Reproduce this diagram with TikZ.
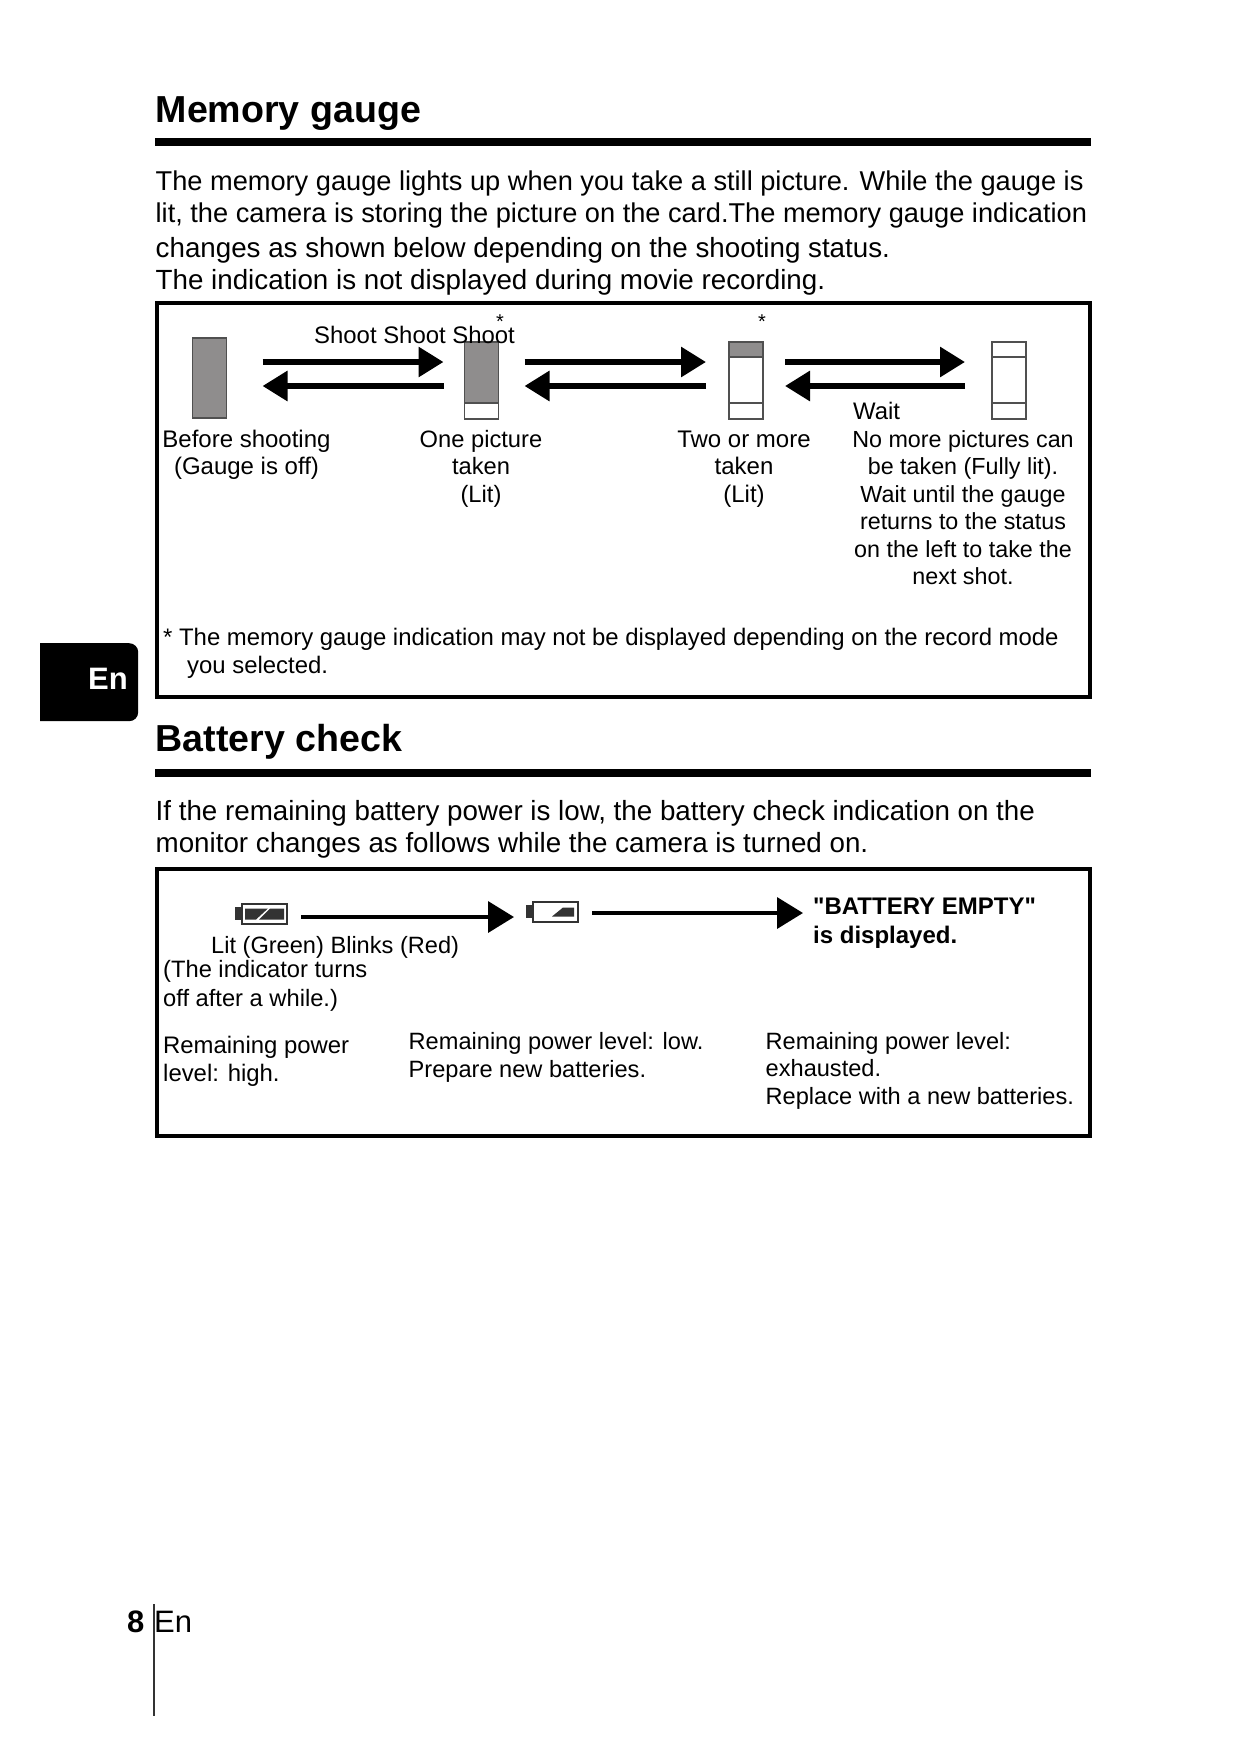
\documentclass[tikz,border=0pt]{standalone}
\usepackage{fontspec}
\setmainfont{Liberation Sans}[Ligatures=TeXOff]
\usepackage{xcolor}
\usetikzlibrary{arrows.meta}
\definecolor{gaugefill}{HTML}{8F8D8D}
\definecolor{gaugeedge}{HTML}{505050}
\begin{document}
\begin{tikzpicture}[
  x=1pt, y=-1pt,
  title/.style={inner sep=0, anchor=base west, font=\fontsize{37.6}{40}\selectfont\bfseries},
  bodytext/.style={inner sep=0, anchor=base west, align=left, font=\fontsize{27.2}{31.5}\selectfont},
  widetext/.style={bodytext, font=\fontsize{27.75}{31.5}\selectfont},
  boxtext/.style={inner sep=0, anchor=base west, align=left, font=\fontsize{23.9}{27.5}\selectfont},
  battext/.style={boxtext, font=\fontsize{23.6}{27.5}\selectfont},
  centertext/.style={inner sep=0, anchor=base, align=center, font=\fontsize{23.7}{27.5}\selectfont},
  starmark/.style={inner sep=0, font=\fontsize{20}{20}\selectfont},
  panel/.style={draw=black, line width=4pt, inner sep=0, outer sep=0, anchor=north west},
  headrule/.style={line width=8pt, draw=black},
  gaugebox/.style={draw=gaugeedge, line width=1.5pt, minimum width=34pt, minimum height=77pt, inner sep=0, outer sep=0, fill=white},
  gaugeline/.style={draw=gaugeedge, line width=1.5pt},
  arrow/.style={-{Triangle[length=25pt,width=29pt]}, line width=6pt},
  batarrow/.style={-{Triangle[length=26pt,width=31pt]}, line width=3.6pt},
  batbody/.style={draw=black!80, line width=2pt, minimum width=45pt, minimum height=20pt, inner sep=0, outer sep=0, fill=white},
  batnub/.style={fill=black!80, inner sep=0, outer sep=0, minimum width=7pt, minimum height=13pt}
]
\useasboundingbox[fill=white] (0,0) rectangle (1241,1754);

\node[title] (memtitle) at (155.5,122) {Memory gauge};
\coordinate (rulea) at (155,142);
\coordinate (ruleb) at (1091,142);
\draw[headrule] (rulea) -- (ruleb);
\node[bodytext] (memline1) at (155.5,190.5) {The memory gauge lights up when you take a still picture. While the gauge is};
\node[bodytext] (memline2) at (155.5,222.5) {lit, the camera is storing the picture on the card.The memory gauge indication};
\node[widetext] (memline3) at (155.5,257.5) {changes as shown below depending on the shooting status.};
\node[widetext] (memline4) at (155.5,289.5) {The indication is not displayed during movie recording.};

\node[panel, minimum width=933pt, minimum height=394pt] (mempanel) at (157,303) {};

\node[gaugebox, fill=gaugefill, minimum height=80pt] (g0) at (209.5,378) {};
\node[gaugebox, fill=gaugefill] (g1) at (481.5,380.5) {};
\node[gaugebox] (g2) at (746,380.5) {};
\node[gaugebox] (g3) at (1009,380.5) {};
\fill[white] ([yshift=16pt]g1.south west) rectangle (g1.south east);
\draw[gaugeline] (g1.north west) rectangle (g1.south east);
\draw[gaugeline] ([yshift=16pt]g1.south west) -- ([yshift=16pt]g1.south east);
\fill[gaugefill] (g2.north west) rectangle ([yshift=-15pt]g2.north east);
\draw[gaugeline] ([yshift=-15pt]g2.north west) -- ([yshift=-15pt]g2.north east);
\draw[gaugeline] ([yshift=16pt]g2.south west) -- ([yshift=16pt]g2.south east);
\draw[gaugeline] (g2.north west) rectangle (g2.south east);
\draw[gaugeline] ([yshift=-15pt]g3.north west) -- ([yshift=-15pt]g3.north east);
\draw[gaugeline] ([yshift=16pt]g3.south west) -- ([yshift=16pt]g3.south east);

\draw[arrow] ([xshift=36pt,yshift=16pt]g0.east) -- ([xshift=-21pt,yshift=18.5pt]g1.west);
\draw[arrow] ([xshift=-21pt,yshift=-5.5pt]g1.west) -- ([xshift=36pt,yshift=-8pt]g0.east);
\draw[arrow] ([xshift=26pt,yshift=18.5pt]g1.east) -- ([xshift=-23pt,yshift=18.5pt]g2.west);
\draw[arrow] ([xshift=-23pt,yshift=-5.5pt]g2.west) -- ([xshift=26pt,yshift=-5.5pt]g1.east);
\draw[arrow] ([xshift=22pt,yshift=18.5pt]g2.east) -- ([xshift=-27pt,yshift=18.5pt]g3.west);
\draw[arrow] ([xshift=-27pt,yshift=-5.5pt]g3.west) -- ([xshift=22pt,yshift=-5.5pt]g2.east);

\node[boxtext] (shoot) at (314,343) {Shoot Shoot Shoot};
\node[starmark] (stara) at (500,322) {*};
\node[starmark] (starb) at (762,322) {*};
\node[boxtext] (wait) at (853,419) {Wait};
\node[centertext, font=\fontsize{24}{27.5}\selectfont] (before) at (246.5,474.5) {Before shooting\\(Gauge is off)};
\node[centertext] (onepic) at (481,502) {One picture\\taken\\(Lit)};
\node[centertext, font=\fontsize{24}{27.5}\selectfont] (twopic) at (744,502) {Two or more\\taken\\(Lit)};
\node[centertext, font=\fontsize{23.3}{27.5}\selectfont] (nomore) at (963,584.5) {No more pictures can\\be taken (Fully lit).\\Wait until the gauge\\returns to the status\\on the left to take the\\next shot.};
\node[boxtext] (footnote) at (163,645) {* The memory gauge indication may not be displayed depending on the record mode};
\node[boxtext] (footnoteb) at (187,673) {you selected.};

\node[fill=black, rounded corners=9pt, minimum width=108pt, minimum height=78pt, inner sep=0, anchor=north west] (tabshape) at (30,643) {};
\fill[black] (tabshape.north west) rectangle ([xshift=30pt]tabshape.south west);
\fill[white] (0,640) rectangle (40,725);
\node[inner sep=0, anchor=base west, text=white, font=\fontsize{31}{31}\selectfont\bfseries] (tablabel) at (88,689) {En};

\node[title] (battitle) at (155.5,751) {Battery check};
\coordinate (rulec) at (155,773);
\coordinate (ruled) at (1091,773);
\draw[headrule] (rulec) -- (ruled);
\node[widetext] (batline1) at (155.5,820) {If the remaining battery power is low, the battery check indication on the};
\node[widetext] (batline2) at (155.5,852) {monitor changes as follows while the camera is turned on.};

\node[panel, minimum width=933pt, minimum height=267pt] (batpanel) at (157,869) {};

\node[batbody] (bat1) at (264.5,913.5) {};
\node[batnub, anchor=east] (nub1) at (bat1.west) {};
\node[batbody] (bat2) at (555.5,911.5) {};
\node[batnub, anchor=east] (nub2) at (bat2.west) {};
\fill[black!80] ([xshift=3pt,yshift=-5pt]bat1.north west) -- ([xshift=26pt,yshift=-5pt]bat1.north west) -- ([xshift=14pt,yshift=4pt]bat1.south west) -- ([xshift=3pt,yshift=4pt]bat1.south west) -- cycle;
\fill[black!80] ([xshift=-3pt,yshift=-5pt]bat1.north east) -- ([xshift=-17pt,yshift=-5pt]bat1.north east) -- ([xshift=-28pt,yshift=4pt]bat1.south east) -- ([xshift=-3pt,yshift=4pt]bat1.south east) -- cycle;
\fill[black!80] ([xshift=-4pt,yshift=-6pt]bat2.north east) -- ([xshift=-15pt,yshift=-6pt]bat2.north east) -- ([xshift=-26pt,yshift=5pt]bat2.south east) -- ([xshift=-4pt,yshift=5pt]bat2.south east) -- cycle;
\coordinate (emptytip) at (803,913);
\draw[batarrow] ([xshift=14pt,yshift=-3.5pt]bat1.east) -- ([xshift=-12pt,yshift=-5.5pt]nub2.west);
\draw[batarrow] ([xshift=14pt,yshift=-1.5pt]bat2.east) -- (emptytip);

\node[boxtext, font=\fontsize{24}{28.5}\selectfont\bfseries] (empty) at (813,943) {"BATTERY EMPTY"\\is displayed.};
\node[battext] (litlabel) at (211,953) {Lit (Green) Blinks (Red)};
\node[battext, font=\fontsize{23.7}{28.5}\selectfont] (turnsoff) at (163,1006) {(The indicator turns\\off after a while.)};
\node[boxtext] (lvlhigh) at (163,1081) {Remaining power\\level: high.};
\node[battext] (lvllow) at (408.5,1077) {Remaining power level: low.\\Prepare new batteries.};
\node[battext] (lvlempty) at (765.5,1104) {Remaining power level:\\exhausted.\\Replace with a new batteries.};

\node[inner sep=0, anchor=base west, font=\fontsize{31}{31}\selectfont\bfseries] (pagenum) at (127,1632) {8};
\node[inner sep=0, anchor=base west, font=\fontsize{31}{31}\selectfont] (pagelang) at (154,1632) {En};
\coordinate (pagetop) at (154,1604);
\coordinate (pagebot) at (154,1716);
\draw[line width=2pt, black!80] (pagetop) -- (pagebot);
\end{tikzpicture}
\end{document}
